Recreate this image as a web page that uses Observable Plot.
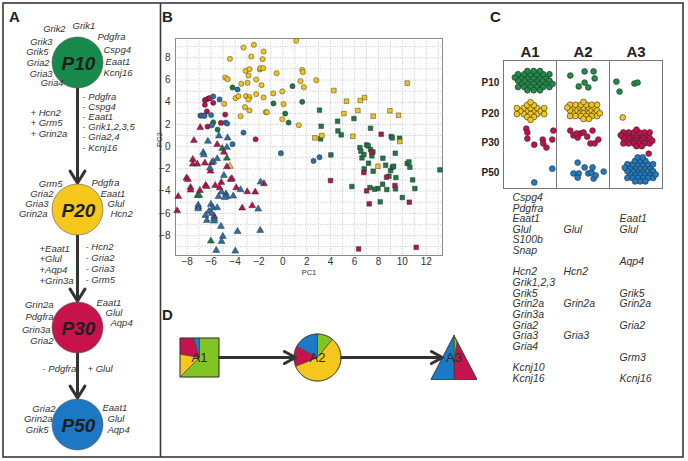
<!DOCTYPE html>
<html><head><meta charset="utf-8">
<script src="https://cdn.jsdelivr.net/npm/d3@7"></script>
<script src="https://cdn.jsdelivr.net/npm/@observablehq/plot@0.6"></script>
<style>
body{margin:0;background:#fff;}
#root{position:relative;width:688px;height:461px;overflow:hidden;font-family:"Liberation Sans",Arial,sans-serif;}
#root svg{position:absolute;background:transparent;}
</style></head><body><div id="root"></div>
<script>
// ======================= DATA =======================
const stages = ["P10","P20","P30","P50"];
const areas = ["A1","A2","A3"];

// Panel A: genes around each stage node
const p10Left = ["Grik2","Grik3","Grik5","Gria2","Gria3","Gria4"];
const p10Right = ["Grik1","Pdgfra","Cspg4","Eaat1","Kcnj16"];
const p20Left = ["Grm5","Gria2","Gria3","Grin2a"];
const p20Right = ["Pdgfra","Eaat1","Glul","Hcn2"];
const p30Left = ["Grin2a","Pdgfra","Grin3a","Gria2"];
const p30Right = ["Eaat1","Glul","Aqp4"];
const p50Left = ["Gria2","Grin2a","Grik5"];
const p50Right = ["Eaat1","Glul","Aqp4"];
// Panel A: changes between stages
const t1Gain = ["+ Hcn2","+ Grm5","+ Grin2a"];
const t1Loss = ["- Pdgfra","- Cspg4","- Eaat1","- Grik1,2,3,5","- Gria2,4","- Kcnj16"];
const t2Gain = ["+Eaat1","+Glul","+Aqp4","+Grin3a"];
const t2Loss = ["- Hcn2","- Gria2","- Gria3","- Grm5"];
const t3Loss = ["- Pdgfra"];
const t3Gain = ["+ Glul"];

// Panel B: PCA scores [PC1, PC2] by area (shape) and stage (colour)
const pcA1P10 = [[3.07,3.29],[3.21,1.84],[3.16,0.70],[4.58,2.29],[4.61,1.42],[4.89,1.06],[5.95,2.53],[4.02,-0.74],[7.34,1.66],[6.45,-0.08],[6.53,-0.41],[6.62,-1.01],[6.78,-0.71],[7.01,0.16],[7.15,0.07],[7.34,-0.26],[7.45,-0.83],[7.54,-0.47],[7.17,-1.49],[6.81,-2.00],[7.56,-2.21],[8.37,-1.04],[8.60,-1.67],[9.02,-2.15],[9.16,-1.85],[9.27,-1.76],[8.88,-2.66],[9.07,0.91],[9.16,0.79],[9.77,0.76],[9.41,-0.59],[10.41,-1.52],[10.55,-1.37],[10.63,-1.85],[10.86,-2.99],[11.05,-3.77],[10.00,-4.58],[13.14,-2.09],[8.15,-4.97],[8.35,-3.38],[7.96,-3.77],[7.68,-3.83],[8.70,-3.86],[9.43,-3.80],[9.46,-2.78],[7.29,-3.68],[5.78,-3.59]];
const pcA1P20 = [[4.27,5.06],[5.33,4.10],[6.48,4.16],[6.84,4.43],[6.28,3.26],[7.56,2.74],[5.11,2.98],[8.96,3.23],[9.68,2.83],[10.41,5.72],[5.86,0.94],[2.68,0.79],[3.27,1.00],[9.79,0.46],[7.96,-1.76]];
const pcA1P30 = [[7.43,-0.50],[8.23,1.12],[6.78,-2.33],[8.68,-2.75],[9.38,-3.50],[7.01,-3.98],[7.23,-5.15],[10.58,-5.00],[6.34,-9.21],[11.16,-9.06],[3.99,-3.05]];
const pcA2P10 = [[-4.21,5.33],[0.81,5.45],[-0.78,3.89],[0.20,2.98],[0.48,2.17],[1.62,4.04],[-5.46,1.54],[-5.82,2.20]];
const pcA2P20 = [[1.12,9.53],[-3.29,8.93],[-2.42,9.17],[-4.43,7.91],[-2.64,8.12],[-1.61,8.57],[-1.69,7.88],[-3.12,6.83],[-2.79,6.98],[-1.92,6.95],[-1.89,7.07],[-1.64,7.07],[-0.52,6.62],[-4.82,6.23],[-4.62,6.08],[-2.87,6.41],[-2.23,6.05],[-3.48,5.66],[-2.95,5.75],[-1.78,5.54],[-3.96,4.37],[-3.71,4.55],[-3.09,4.55],[-2.79,4.46],[-2.87,4.25],[-2.23,4.73],[-1.61,4.43],[-4.90,3.86],[-3.17,3.56],[-2.79,3.26],[-1.42,3.11],[-1.33,3.11],[-3.54,2.74],[-0.80,4.79],[-0.05,4.97],[0.06,3.83],[-0.05,2.47],[1.34,1.93],[1.48,5.90],[1.62,6.92],[1.68,6.71],[1.76,5.36],[2.80,5.99]];
const pcA2P30 = [[-6.52,4.19],[-6.38,4.25],[-6.21,4.34],[-6.10,4.37],[-6.52,3.77],[-5.82,3.95],[-6.35,3.17],[-4.82,2.89],[-6.61,2.80],[-5.18,2.14],[-6.30,1.81],[-2.28,0.67]];
const pcA2P50 = [[-5.82,4.52],[-5.29,4.25],[-3.79,5.15],[-6.90,2.80],[-6.78,2.80],[-6.55,2.78],[-6.00,2.85],[-5.94,1.93],[-4.79,2.17],[-4.65,2.08],[-3.29,1.27],[-4.21,0.22],[-0.16,-0.59],[2.57,-1.28],[3.07,-0.95]];
const pcA3P10 = [[-5.07,-0.17],[-4.68,-1.03],[-7.13,-4.39],[-7.00,-4.39],[-6.02,-8.50]];
const pcA3P20 = [[-4.43,-1.76]];
const pcA3P30 = [[-6.91,1.72],[-7.44,0.55],[-5.49,0.19],[-4.93,-0.49],[-7.53,-1.15],[-7.53,-1.57],[-7.16,-1.57],[-6.52,-1.48],[-5.94,-1.45],[-6.05,-2.20],[-4.68,-1.81],[-8.06,-2.83],[-7.94,-2.95],[-7.72,-3.67],[-7.72,-3.91],[-6.94,-3.94],[-8.75,-4.48],[-6.47,-3.49],[-6.38,-3.58],[-5.66,-3.49],[-5.15,-3.22],[-5.29,-3.70],[-4.37,-2.95],[-4.26,-2.89],[-3.90,-3.70],[-2.98,-4.06],[-2.31,-4.09],[-1.58,-3.34],[-7.08,-5.44],[-8.84,-5.77],[-5.74,-6.28],[-3.40,-5.53],[-2.56,-5.32]];
const pcA3P50 = [[-6.27,0.49],[-4.68,-0.06],[-6.66,-0.52],[-6.61,-0.73],[-5.82,-1.33],[-5.49,-1.09],[-6.10,-1.93],[-4.93,-2.59],[-5.13,-4.09],[-5.38,-4.48],[-4.76,-4.24],[-4.68,-4.48],[-4.85,-4.57],[-4.15,-4.45],[-3.54,-3.88],[-1.86,-3.19],[-7.08,-5.26],[-7.08,-5.59],[-6.02,-5.20],[-6.19,-5.83],[-5.85,-5.50],[-5.49,-5.50],[-5.94,-6.01],[-5.74,-6.49],[-5.74,-6.70],[-6.47,-6.19],[-6.35,-6.64],[-2.06,-5.62],[-5.18,-7.18],[-3.79,-7.63],[-1.89,-7.54],[-5.02,-8.08],[-5.13,-8.53],[-5.57,-9.34],[-3.98,-9.40],[-5.35,0.97],[-4.62,0.79]];
const pcXTicks = [-8,-6,-4,-2,0,2,4,6,8,10,12];
const pcYTicks = [-8,-6,-4,-2,0,2,4,6,8];

// Panel C: cells (area x stage). Dense cells: counts; sparse cells: positions (column/row units)
const cDense = [ // [area, stage, count]
  ["A1","P10",36],["A1","P20",20],["A2","P20",33],["A3","P30",33],["A3","P50",38]
];
const cA2P10 = [[1.26,0.47],[1.53,0.34],[1.70,0.34],[1.72,0.56],[1.42,0.81],[1.53,0.69],[1.60,0.84]];
const cA3P10 = [[2.13,0.66],[2.19,0.97],[2.47,0.72],[2.53,0.69]];
const cA3P20 = [[2.25,1.78]];
const cA1P30 = [[0.43,2.13],[0.45,2.25],[0.94,2.19],[0.45,2.44],[0.58,2.63],[0.74,2.47],[0.75,2.59],[0.81,2.72],[0.92,2.47]];
const cA2P30 = [[1.26,2.19],[1.32,2.34],[1.40,2.41],[1.45,2.28],[1.51,2.25],[1.58,2.38],[1.68,2.19],[1.64,2.59],[1.72,2.59],[1.79,2.47],[1.38,2.28]];
const cA3P30x = [[2.74,2.91]];
const cA1P50 = [[0.92,3.38],[0.58,3.81]];
const cA2P50 = [[1.40,3.19],[1.32,3.53],[1.42,3.53],[1.53,3.34],[1.60,3.53],[1.66,3.50],[1.70,3.69],[1.89,3.47],[1.40,3.66],[1.74,3.59],[1.68,3.34]];
// Panel C: genes listed under each area
const cGeneOrder = ["Cspg4","Pdgfra","Eaat1","Glul","S100b","Snap","Aqp4","Hcn2","Grik1,2,3","Grik5","Grin2a","Grin3a","Gria2","Gria3","Gria4","Grm3","Kcnj10","Kcnj16"];
const cGenesA1 = ["Cspg4","Pdgfra","Eaat1","Glul","S100b","Snap","Hcn2","Grik1,2,3","Grik5","Grin2a","Grin3a","Gria2","Gria3","Gria4","Kcnj10","Kcnj16"];
const cGenesA2 = ["Glul","Hcn2","Grin2a","Gria3"];
const cGenesA3 = ["Eaat1","Glul","Aqp4","Grik5","Grin2a","Gria2","Grm3","Kcnj16"];

// Panel D: stage shares within each area (P10, P20, P30, P50)
const shareA1 = [0.625, 0.153, 0.175, 0.047];
const shareA2 = [0.11, 0.58, 0.14, 0.17];
const shareA3 = [0.022, 0.006, 0.472, 0.50];

// ======================= STYLE / LAYOUT =======================
const FONT = "Liberation Sans, Arial, Helvetica, sans-serif";
const root = document.getElementById("root");
function place(svg, left, top) { svg.style.left = left + "px"; svg.style.top = top + "px"; root.appendChild(svg); }
const colA = ["#17894a","#f6c71c","#c8124c","#1c78c4"];
const colB = ["#1b7a44","#f2c41b","#b5134b","#2c6ea8"];
const colC = ["#1f8c47","#f5c71d","#c3124b","#1f7bc6"];
const colD = ["#80c521","#f5c71d","#c8124c","#1a7ac6"];

// Panel A layout (pixels of the background canvas)
const nodeCx = 77, nodeR = 25.5, nodeY = [62, 209, 327, 424];
const posP10L = [[65,29],[52,41.5],[48,52],[49,63],[52,73.5],[63,83]];
const posP10R = [[72,25],[97,36],[103,49],[105,61],[103,72]];
const posP20L = [[62,183],[53,193],[48,203],[47,213]];
const posP20R = [[91,182],[100,193],[107,203],[110,213]];
const posP30L = [[53,304],[53,316],[50,329],[53,340]];
const posP30R = [[96,302],[105,312],[110,322]];
const posP50L = [[55,408],[52,418],[48,429]];
const posP50R = [[102,407],[107,418],[107,429]];

function labels(list, pos, anchor, extra = {}) {
  return Plot.text(list.map((t, i) => ({t, x: pos[i][0], y: pos[i][1]})),
    {x: "x", y: "y", text: "t", textAnchor: anchor, fontStyle: "italic", fontSize: 9.5, fill: "#333", fontFamily: FONT, ...extra});
}
function column(list, x, y0, dy, anchor) {
  return labels(list, list.map((_, i) => [x, y0 + i * dy]), anchor);
}

// Panel D geometry
function polyBoundary(cx, cy, poly, a) {
  const dx = Math.sin(a), dy = -Math.cos(a);
  let best = Infinity;
  for (let k = 0; k < poly.length; k++) {
    const p = poly[k], q = poly[(k + 1) % poly.length];
    const ex = q[0] - p[0], ey = q[1] - p[1];
    const den = dx * ey - dy * ex;
    if (Math.abs(den) < 1e-9) continue;
    const t = ((p[0] - cx) * ey - (p[1] - cy) * ex) / den;
    const s = ((p[0] - cx) * dy - (p[1] - cy) * dx) / den;
    if (t > 0 && s >= -1e-9 && s <= 1 + 1e-9) best = Math.min(best, t);
  }
  return [cx + dx * best, cy + dy * best];
}
const shapesD = [
  {name: "A1", cx: 199, cy: 357, poly: [[179.5,337.5],[218.5,337.5],[218.5,376.5],[179.5,376.5]], share: shareA1},
  {name: "A2", cx: 317, cy: 357, r: 23.5, share: shareA2},
  {name: "A3", cx: 453.5, cy: 363, poly: [[453.5,335],[476.5,379],[430.5,379]], share: shareA3}
];
function boundary(s, a) {
  if (s.r) return [s.cx + Math.sin(a) * s.r, s.cy - Math.cos(a) * s.r];
  return polyBoundary(s.cx, s.cy, s.poly, a);
}
const dMarks = [];
for (const s of shapesD) {
  let a0 = 0;
  s.share.forEach((v, k) => {
    const a1 = a0 + v * 2 * Math.PI;
    const pts = [{x: s.cx, y: s.cy}];
    const n = Math.max(2, Math.ceil((a1 - a0) / (Math.PI / 180)));
    for (let j = 0; j <= n; j++) { const [x, y] = boundary(s, a0 + (a1 - a0) * j / n); pts.push({x, y}); }
    pts.push({x: s.cx, y: s.cy});
    dMarks.push(Plot.line(pts, {x: "x", y: "y", fill: colD[k], stroke: "#3a3a3a", strokeWidth: 0.6, strokeLinejoin: "round"}));
    a0 = a1;
  });
  const outline = [];
  for (let j = 0; j <= 360; j++) { const [x, y] = boundary(s, j * Math.PI / 180); outline.push({x, y}); }
  dMarks.push(Plot.line(outline, {x: "x", y: "y", stroke: "#333", strokeWidth: 0.8}));
}
dMarks.push(Plot.text(shapesD, {x: "cx", y: (d) => d.name === "A3" ? d.cy - 6 : d.cy, text: "name", fontSize: 13, fill: "#2a2a2a", fontFamily: FONT}));
dMarks.push(Plot.arrow([[219, 295], [341, 442]], {x1: (d) => d[0], x2: (d) => d[1], y1: 357, y2: 357, stroke: "#333", strokeWidth: 3, headLength: 6.3, headAngle: 57}));

// ======================= BACKGROUND (frames, panels A, C-text, D) =======================
const bg = Plot.plot({
  width: 688, height: 461, margin: 0,
  x: {domain: [0, 688], range: [0, 688], axis: null},
  y: {domain: [0, 461], range: [0, 461], axis: null},
  style: {fontFamily: FONT, background: "transparent"},
  marks: [
    Plot.rect([{x1: 3, x2: 683, y1: 3, y2: 457}], {x1: "x1", x2: "x2", y1: "y1", y2: "y2", fill: "none", stroke: "#3a3a3a", strokeWidth: 1.6}),
    Plot.ruleX([160], {y1: 3, y2: 457, stroke: "#3a3a3a", strokeWidth: 1.6}),
    Plot.text(["A","B","C","D"], {x: [14, 167, 495, 167], y: [17, 17, 17, 315], text: (d) => d, fontWeight: "bold", fontSize: 15, fill: "#222", fontFamily: FONT}),
    // panel A arrows
    Plot.arrow([0, 1, 2], {x1: nodeCx, x2: nodeCx, y1: (i) => nodeY[i] + nodeR, y2: (i) => nodeY[i + 1] - nodeR - 1, stroke: "#333", strokeWidth: 3, headLength: 7, headAngle: 64}),
    // panel A nodes
    Plot.dot(stages, {x: nodeCx, y: (d, i) => nodeY[i], r: nodeR, fill: (d, i) => colA[i], stroke: "#555", strokeWidth: 0.6}),
    Plot.text(stages, {x: nodeCx + 1, y: (d, i) => nodeY[i] + 1, text: (d) => d, fontWeight: "bold", fontStyle: "italic", fontSize: 19, fill: "#1e1e1e", fontFamily: FONT}),
    labels(p10Left, posP10L, "end", {fontSize: 9.3}), labels(p10Right, posP10R, "start"),
    labels(p20Left, posP20L, "end"), labels(p20Right, posP20R, "start"),
    labels(p30Left, posP30L, "end"), labels(p30Right, posP30R, "start"),
    labels(p50Left, posP50L, "end"), labels(p50Right, posP50R, "start"),
    column(t1Gain, 30, 112, 10.5, "start"), column(t1Loss, 82, 96, 10.2, "start"),
    column(t2Gain, 39, 248, 10.8, "start"), column(t2Loss, 85, 246, 11, "start"),
    column(t3Loss, 42, 368, 10, "start"), column(t3Gain, 87, 368, 10, "start"),
    // panel C gene lists
    labels(cGenesA1, cGenesA1.map((g) => [512, 197 + cGeneOrder.indexOf(g) * 10.65]), "start", {fontSize: 10.5}),
    labels(cGenesA2, cGenesA2.map((g) => [563, 197 + cGeneOrder.indexOf(g) * 10.65]), "start", {fontSize: 10.5}),
    labels(cGenesA3, cGenesA3.map((g) => [619, 197 + cGeneOrder.indexOf(g) * 10.65]), "start", {fontSize: 10.5}),
    ...dMarks
  ]
});
place(bg, 0, 0);

// ======================= PANEL B: PCA scatter =======================
const pcGroups = [["A1","P10",pcA1P10],["A1","P20",pcA1P20],["A1","P30",pcA1P30],["A2","P10",pcA2P10],["A2","P20",pcA2P20],["A2","P30",pcA2P30],["A2","P50",pcA2P50],["A3","P10",pcA3P10],["A3","P20",pcA3P20],["A3","P30",pcA3P30],["A3","P50",pcA3P50]];
const pcRows = pcGroups.flatMap(([area, stage, pts]) => pts.map(([pc1, pc2]) => ({pc1, pc2, area, stage})));
const pcPlot = Plot.plot({
  width: 310, height: 262, marginLeft: 35, marginRight: 8, marginTop: 18, marginBottom: 27,
  style: {fontFamily: FONT, background: "transparent"},
  x: {domain: [-8.98, 13.36]},
  y: {domain: [-9.8, 9.74]},
  color: {domain: stages, range: colB},
  symbol: {domain: areas, range: ["square", "circle", "triangle"]},
  marks: [
    Plot.gridX(d3.range(-8, 14, 1), {stroke: "#999", strokeOpacity: 0.55, strokeDasharray: "1,1.5"}),
    Plot.gridY(d3.range(-9, 10, 1), {stroke: "#999", strokeOpacity: 0.55, strokeDasharray: "1,1.5"}),
    Plot.frame({stroke: "#8a8a8a"}),
    Plot.axisX(pcXTicks, {tickSize: 0, tickPadding: 2, fontSize: 10, color: "#333", label: null}),
    Plot.axisY(pcYTicks, {tickSize: 0, tickPadding: 5, fontSize: 10, color: "#333", label: null}),
    Plot.text(["PC1"], {frameAnchor: "bottom", dy: 19, fontSize: 7.5, fill: "#333"}),
    Plot.text(["PC2"], {frameAnchor: "left", dx: -16, rotate: -90, fontSize: 7.5, fill: "#333"}),
    Plot.dot(pcRows, {x: "pc1", y: "pc2", symbol: "area", fill: "stage", stroke: "#2a2a2a", strokeWidth: 0.45, r: 2.6})
  ]
});
place(pcPlot, 140, 20);

// ======================= PANEL C: area x stage dot grid =======================
function packCell(col, row, n, cx, cy, rx, ry) {
  const nodes = d3.packSiblings(d3.range(n).map(() => ({r: 1})));
  const enc = d3.packEnclose(nodes);
  return nodes.map((c) => ({x: col + cx + (c.x - enc.x) / enc.r * rx, y: row + cy + (c.y - enc.y) / enc.r * ry}));
}
const denseShape = {"A1P10": [0.57, 0.63, 0.43, 0.42], "A1P20": [0.51, 0.58, 0.40, 0.33], "A2P20": [0.51, 0.56, 0.37, 0.37], "A3P30": [0.51, 0.42, 0.36, 0.36], "A3P50": [0.58, 0.42, 0.36, 0.46]};
const cRows = [];
for (const [a, s, n] of cDense) {
  const [cx, cy, rx, ry] = denseShape[a + s];
  packCell(areas.indexOf(a), stages.indexOf(s), n, cx, cy, rx, ry).forEach((p) => cRows.push({...p, stage: s}));
}
[[cA2P10,"P10"],[cA3P10,"P10"],[cA3P20,"P20"],[cA1P30,"P30"],[cA2P30,"P30"],[cA3P30x,"P30"],[cA1P50,"P50"],[cA2P50,"P50"]]
  .forEach(([pts, s]) => pts.forEach(([x, y]) => cRows.push({x, y, stage: s})));
const rowLabelY = [0.69, 1.66, 2.56, 3.5];
const cPlot = Plot.plot({
  width: 200, height: 165, marginLeft: 33, marginRight: 8, marginTop: 30, marginBottom: 7,
  style: {fontFamily: FONT, background: "transparent"},
  x: {domain: [0, 3], axis: null},
  y: {domain: [0, 4], reverse: true, axis: null},
  color: {domain: stages, range: colC},
  marks: [
    Plot.frame({stroke: "#777"}),
    Plot.ruleX([1, 2], {stroke: "#777"}),
    Plot.text(areas, {x: (d, i) => i + 0.5, frameAnchor: "top", dy: -14, fontSize: 15, fontWeight: "bold", fill: "#222"}),
    Plot.text(stages, {y: (d, i) => rowLabelY[i], frameAnchor: "left", dx: -13, textAnchor: "middle", fontSize: 10, fontWeight: "bold", fill: "#222"}),
    Plot.dot(cRows, {x: "x", y: "y", fill: "stage", stroke: "#2a2a2a", strokeWidth: 0.6, r: 2.9})
  ]
});
place(cPlot, 470, 30);
</script></body></html>
